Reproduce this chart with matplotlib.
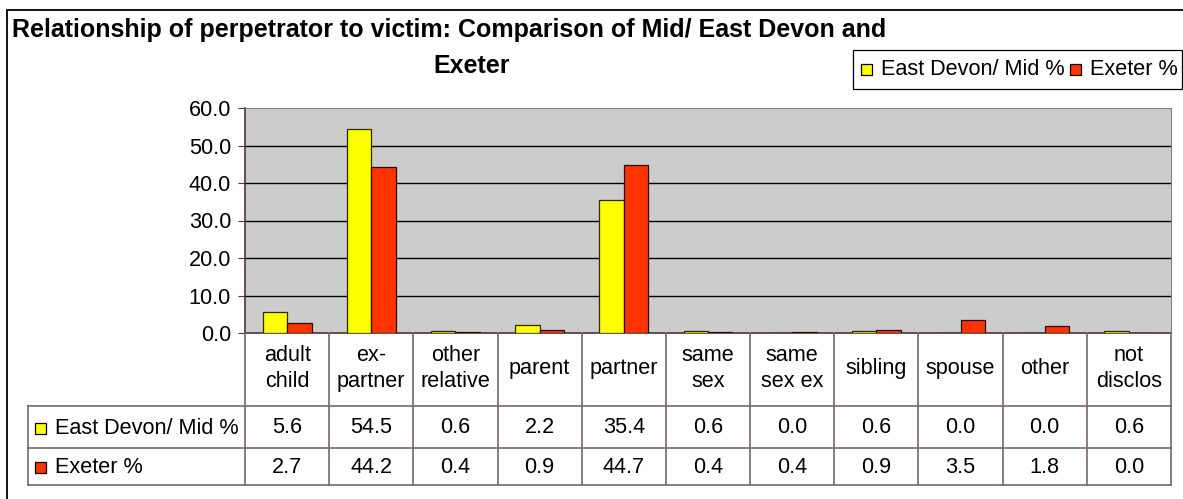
import numpy as np
import matplotlib.pyplot as plt
from matplotlib.patches import Rectangle

plt.rcParams['font.family'] = ['Liberation Sans', 'DejaVu Sans']

# data
categories = ['adult\nchild', 'ex-\npartner', 'other\nrelative', 'parent', 'partner',
              'same\nsex', 'same\nsex ex', 'sibling', 'spouse', 'other', 'not\ndisclos']
series_names = ['East Devon/ Mid %', 'Exeter %']
east_devon = [5.6, 54.5, 0.6, 2.2, 35.4, 0.6, 0.0, 0.6, 0.0, 0.0, 0.6]
exeter = [2.7, 44.2, 0.4, 0.9, 44.7, 0.4, 0.4, 0.9, 3.5, 1.8, 0.0]
colors = ['#FFFF00', '#FF3300']

W, H = 1183, 499
fs = 15.6
fig = plt.figure(figsize=(W / 100, H / 100), dpi=100)


def px_axes(x0, y0, x1, y1):
    # pixel box (top-left origin) -> figure axes
    return fig.add_axes([x0 / W, 1 - y1 / H, (x1 - x0) / W, (y1 - y0) / H])


def fx(px):
    return px / W


def fy(py):
    return 1 - py / H


# outer chart frame (right/bottom run off the picture)
fig.patches.append(Rectangle((fx(7), -0.02), 1.1, fy(10) + 0.02,
                             transform=fig.transFigure, fill=False,
                             edgecolor='black', linewidth=1.3))

# title
fig.text(fx(449), fy(37), 'Relationship of perpetrator to victim: Comparison of Mid/ East Devon and',
         ha='center', va='baseline', fontsize=18, fontweight='bold')
fig.text(fx(472), fy(73), 'Exeter', ha='center', va='baseline', fontsize=18, fontweight='bold')

# bar plot
left, right, top, bottom = 245, 1171, 108, 333
ax = px_axes(left, top, right, bottom)
n = len(categories)
x = np.arange(n)
bw = 0.29
ax.bar(x - bw / 2, east_devon, bw, color=colors[0], edgecolor='#2a2a00', linewidth=0.9, zorder=3)
ax.bar(x + bw / 2, exeter, bw, color=colors[1], edgecolor='#2a0a00', linewidth=0.9, zorder=3)
ax.set_xlim(-0.5, n - 0.5)
ax.set_ylim(0, 60)
ax.set_facecolor('#CCCCCC')
ax.set_yticks(np.arange(0, 61, 10))
ax.set_yticklabels(['%.1f' % v for v in np.arange(0, 61, 10)], fontsize=fs)
ax.tick_params(axis='y', direction='out', length=5, color='#4d3333', pad=5)
ax.set_xticks([])
for v in range(10, 60, 10):
    ax.axhline(v, color='black', linewidth=1, zorder=1)
ax.spines['left'].set_color('#4d3333')
ax.spines['bottom'].set_color('#4d3333')
ax.spines['top'].set_color('#808080')
ax.spines['right'].set_color('#808080')
ax.spines['left'].set_linewidth(1.2)
ax.spines['bottom'].set_linewidth(1.2)

# data table under the plot
tab_left, tab_bottom = 28, 485
row1, row2 = 405.7, 447.7
colw = (right - left) / n
lab_w = (left - tab_left) / colw
axt = px_axes(tab_left, bottom, right, tab_bottom)
axt.set_xlim(-0.5 - lab_w, n - 0.5)
axt.set_ylim(tab_bottom, bottom)
axt.axis('off')
lc = '#7a6666'
for i in range(n + 1):
    axt.plot([i - 0.5, i - 0.5], [bottom, tab_bottom], color=lc, lw=1.2, clip_on=False)
axt.plot([-0.5 - lab_w, -0.5 - lab_w], [row1, tab_bottom], color=lc, lw=1.2, clip_on=False)
for yy in (row1, row2, tab_bottom):
    axt.plot([-0.5 - lab_w, n - 0.5], [yy, yy], color=lc, lw=1.2, clip_on=False)

for i, c in enumerate(categories):
    axt.text(i, (bottom + row1) / 2 - 1, c, ha='center', va='center', fontsize=fs, linespacing=1.35)
    axt.text(i, (row1 + row2) / 2 + 1, '%.1f' % east_devon[i], ha='center', va='center', fontsize=fs)
    axt.text(i, (row2 + tab_bottom) / 2 + 1.5, '%.1f' % exeter[i], ha='center', va='center', fontsize=fs)

for (y0, y1), name, col in zip([(row1, row2), (row2, tab_bottom)], series_names, colors):
    ym = (y0 + y1) / 2
    axt.add_patch(Rectangle((-0.5 - lab_w + 7 / colw, ym - 5.5 + 1.5), 11 / colw, 11, facecolor=col,
                            edgecolor='black', linewidth=0.9, clip_on=False))
    axt.text(-0.5 - lab_w + 27 / colw, ym + 1.5, name, ha='left', va='center', fontsize=fs)

# legend box drawn along the top right
fig.patches.append(Rectangle((fx(853), fy(89)), fx(1182) - fx(853), fy(50) - fy(89),
                             transform=fig.transFigure, fill=False,
                             edgecolor='black', linewidth=0.9))
leg_x = [861, 1070]
for lx, name, col in zip(leg_x, series_names, colors):
    fig.patches.append(Rectangle((fx(lx), fy(75)), 11 / W, 11 / H, transform=fig.transFigure,
                                 facecolor=col, edgecolor='black', linewidth=0.9))
    fig.text(fx(lx + 20), fy(75), name, ha='left', va='baseline', fontsize=fs)

fig.savefig('out.png', dpi=100)
